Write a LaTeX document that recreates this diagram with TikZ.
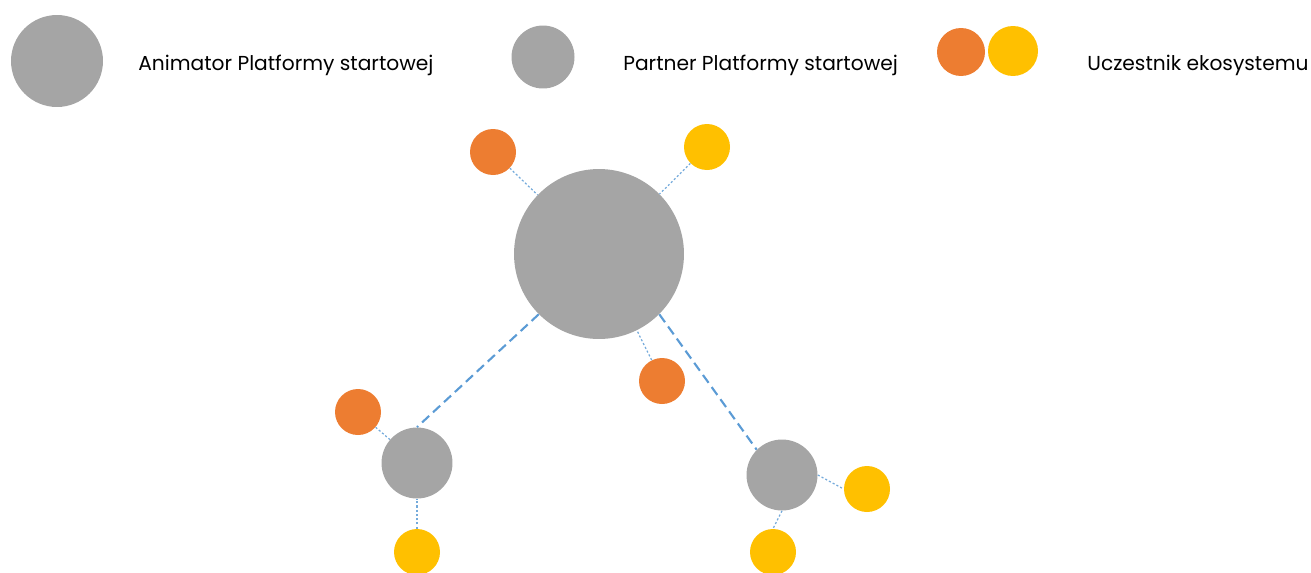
\documentclass[tikz,border=0pt]{standalone}
\usepackage{fontspec}
\setmainfont{Poppins}
\definecolor{platgrey}{HTML}{A5A5A5}
\definecolor{ecoorange}{HTML}{ED7D31}
\definecolor{ecoyellow}{HTML}{FFC000}
\definecolor{linkblue}{HTML}{5B9BD5}

\begin{document}
\begin{tikzpicture}[x=0.02cm, y=-0.02cm,
  animator/.style={circle, fill=platgrey, inner sep=0pt, minimum size=3.4cm},
  partner/.style={circle, fill=platgrey, inner sep=0pt, minimum size=1.42cm},
  member/.style={circle, fill=#1, inner sep=0pt, minimum size=0.92cm},
  link/.style={draw=linkblue, line width=1.2pt, dash pattern=on 5.5pt off 3pt},
  tie/.style={draw=linkblue!85, line width=0.7pt, dash pattern=on 1.2pt off 1.2pt},
  keytext/.style={anchor=base west, inner sep=0pt, font=\fontsize{11.5}{14}\selectfont}]
  \useasboundingbox (0,0) rectangle (1311,572);

  % legend
  \node[animator, minimum size=1.84cm] (keyanim) at (57,61) {};
  \node[keytext] (keyanimtext) at (138,70) {Animator Platformy startowej};
  \node[partner, minimum size=1.26cm] (keypart) at (543,57) {};
  \node[keytext] (keyparttext) at (623,70) {Partner Platformy startowej};
  \node[member=ecoorange, minimum size=0.96cm] (keyorange) at (961,52) {};
  \node[member=ecoyellow, minimum size=1cm] (keyyellow) at (1013,51) {};
  \node[keytext] (keymembertext) at (1087,70) {Uczestnik ekosystemu};

  % platform
  \node[animator] (anim) at (599,254) {};
  \node[partner] (partl) at (417,463) {};
  \node[partner] (partr) at (782,475) {};

  \node[member=ecoorange] (ortop) at (493,152) {};
  \node[member=ecoyellow] (yetop) at (707,147) {};
  \node[member=ecoorange] (ormid) at (662,381) {};
  \node[member=ecoorange] (orleft) at (358,412) {};
  \node[member=ecoyellow] (yeleft) at (417,552) {};
  \node[member=ecoyellow] (yeright) at (867,489) {};
  \node[member=ecoyellow] (yebottom) at (773,552) {};

  \path[link] (anim.225) -- (partl.north);
  \path[link] (anim.-45) -- (partr.135);

  \path[tie] (ortop) -- (anim);
  \path[tie] (yetop) -- (anim);
  \path[tie] (ormid) -- (anim);
  \path[tie] (orleft) -- (partl);
  \path[tie] (yeleft) -- (partl);
  \path[tie] (partr.east) -- (yeright.west);
  \path[tie] (partr.south) -- (yebottom.north);
\end{tikzpicture}
\end{document}
